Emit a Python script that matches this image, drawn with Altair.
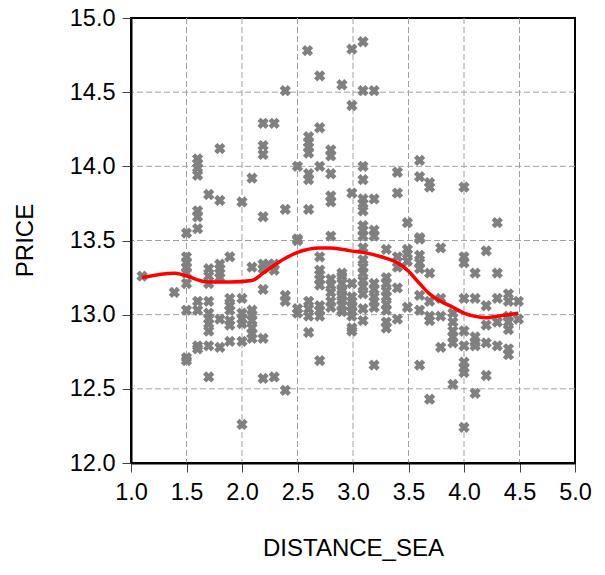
import altair as alt
import pandas as pd

# scatter: DISTANCE_SEA columns -> PRICE values
x_vals = [1.10, 1.39, 1.50, 1.60, 1.70, 1.80, 1.89, 2.00, 2.09, 2.19, 2.24, 2.29,
          2.39, 2.50, 2.59, 2.60, 2.70, 2.80, 2.90, 2.99, 3.09, 3.19, 3.30, 3.40,
          3.49, 3.60, 3.69, 3.79, 3.90, 4.00, 4.10, 4.20, 4.30, 4.40, 4.49]
y_groups = [
    [13.26],
    [13.15],
    [13.55, 13.39, 13.35, 13.32, 13.28, 13.21, 13.03, 12.71, 12.69],
    [14.05, 14.02, 13.99, 13.94, 13.70, 13.66, 13.58, 13.09, 13.03, 12.79, 12.77],
    [13.81, 13.31, 13.26, 13.21, 13.09, 13.01, 12.97, 12.94, 12.89, 12.79, 12.58],
    [14.12, 13.77, 13.34, 13.31, 13.28, 13.25, 12.97, 12.78],
    [13.39, 13.11, 13.06, 13.03, 12.96, 12.93, 12.82],
    [13.76, 13.11, 13.01, 12.97, 12.94, 12.82, 12.26],
    [13.92, 13.32, 13.03, 13.00, 12.96, 12.91, 12.87, 12.84],
    [14.29, 14.14, 14.08, 13.66, 13.34, 13.31, 13.17, 12.84, 12.57],
    [13.34],
    [14.29, 13.34, 13.30, 12.58],
    [14.51, 13.71, 13.13, 13.09, 12.49],
    [14.00, 13.51, 13.50, 13.04, 13.01],
    [14.78],
    [14.20, 14.16, 14.13, 14.09, 13.95, 13.91, 13.71, 13.09, 13.04, 12.99, 12.88],
    [14.61, 14.26, 14.00, 13.39, 13.30, 13.27, 13.24, 13.20, 13.06, 13.03, 12.99, 12.69],
    [14.11, 14.07, 13.95, 13.80, 13.76, 13.53, 13.24, 13.20, 13.15, 13.09, 13.05],
    [14.55, 13.28, 13.26, 13.21, 13.17, 13.16, 13.12, 13.10, 13.06, 13.03, 13.02],
    [14.79, 14.41, 13.82, 13.21, 13.12, 13.09, 13.06, 13.05, 13.02, 12.99, 12.91, 12.89],
    [14.84, 14.51, 14.00, 13.91, 13.78, 13.75, 13.70, 13.60, 13.57, 13.53, 13.45,
     13.37, 13.32, 13.28, 13.23, 13.19, 13.14, 13.04, 12.96],
    [14.51, 13.78, 13.57, 13.53, 13.21, 13.17, 13.12, 13.09, 13.05, 12.66],
    [13.44, 13.25, 13.21, 13.16, 13.12, 13.07, 13.03, 12.95, 12.91],
    [13.96, 13.82, 13.39, 13.32, 13.18, 12.97],
    [13.62, 13.44, 13.41, 13.36, 13.05],
    [14.04, 13.93, 13.52, 13.51, 13.40, 13.35, 13.31, 13.13, 13.03, 12.66],
    [13.89, 13.86, 13.28, 13.09, 12.99, 12.96, 12.43],
    [13.45, 13.11, 12.99, 12.78],
    [13.01, 12.95, 12.89, 12.85, 12.81, 12.53],
    [13.86, 13.39, 13.35, 13.11, 12.89, 12.79, 12.68, 12.64, 12.61, 12.24],
    [13.28, 13.11, 12.85, 12.81, 12.79, 12.47],
    [13.43, 13.06, 12.93, 12.81, 12.59],
    [13.62, 13.28, 13.11, 12.95, 12.79],
    [13.14, 13.09, 12.99, 12.95, 12.90, 12.77, 12.73],
    [13.09, 12.97],
]

# smoothed (red) curve
smooth_x = [1.10, 1.39, 1.70, 1.89, 2.09, 2.19, 2.39, 2.50, 2.70, 2.80, 2.98, 3.09,
            3.30, 3.40, 3.49, 3.60, 3.69, 3.79, 3.90, 4.00, 4.09, 4.20, 4.30, 4.40, 4.49]
smooth_y = [13.25, 13.28, 13.22, 13.22, 13.23, 13.28, 13.38, 13.42, 13.45, 13.45, 13.43, 13.42,
            13.38, 13.35, 13.30, 13.21, 13.14, 13.09, 13.05, 13.01, 12.99, 12.98, 12.99, 13.00, 13.01]

x_ticks = [1.0, 1.5, 2.0, 2.5, 3.0, 3.5, 4.0, 4.5, 5.0]
y_ticks = [12.0, 12.5, 13.0, 13.5, 14.0, 14.5, 15.0]

rows = []
for xv, ys in zip(x_vals, y_groups):
    for yv in ys:
        rows.append({"DISTANCE_SEA": xv, "PRICE": yv})
pts = pd.DataFrame(rows)
line_df = pd.DataFrame({"DISTANCE_SEA": smooth_x, "PRICE": smooth_y})
gx_df = pd.DataFrame({"DISTANCE_SEA": x_ticks[1:-1]})
gy_df = pd.DataFrame({"PRICE": y_ticks[1:-1]})

FONT = "Liberation Sans"
GRID = dict(color="#a0a0a0", strokeDash=[6, 3], strokeWidth=1)

xscale = alt.Scale(domain=[1, 5], nice=False, zero=False)
yscale = alt.Scale(domain=[12, 15], nice=False, zero=False)

xaxis = alt.Axis(values=x_ticks, format=".1f", title="DISTANCE_SEA",
                 tickSize=9, labelPadding=8, labelFlush=False, labelOverlap=False,
                 titleY=73, titleX=222, grid=False, zindex=1)
yaxis = alt.Axis(values=y_ticks, format=".1f", title="PRICE",
                 tickSize=9, labelPadding=7, labelFlush=False, labelOverlap=False,
                 titleX=-94, titleY=222, grid=False, zindex=1)

X = alt.X("DISTANCE_SEA:Q", scale=xscale, axis=xaxis)
Y = alt.Y("PRICE:Q", scale=yscale, axis=yaxis)

grid_x = alt.Chart(gx_df).mark_rule(**GRID).encode(x=X)
grid_y = alt.Chart(gy_df).mark_rule(**GRID).encode(y=Y)

scatter = alt.Chart(pts).mark_point(
    shape="cross", angle=45, size=130, filled=True, color="#808080", opacity=1
).encode(x=X, y=Y)

line = alt.Chart(line_df).mark_line(
    color="#ff0000", strokeWidth=3.5, interpolate="monotone"
).encode(x=X, y=Y)

chart = alt.layer(grid_x, grid_y, scatter, line).properties(
    width=444, height=445,
    autosize=alt.AutoSizeParams(type="none"),
    padding={"left": 131, "top": 18, "right": 30, "bottom": 112},
    background="#ffffff",
).configure_view(
    stroke="#000000", strokeWidth=2
).configure_axis(
    labelFont=FONT, titleFont=FONT, labelFontSize=23.5, titleFontSize=24,
    labelColor="#000000", titleColor="#000000", titleFontWeight="normal",
    domainColor="#000000", domainWidth=2, tickColor="#444444", tickWidth=1,
)

chart.save("out.html", embed_options={"renderer": "svg", "actions": False})
